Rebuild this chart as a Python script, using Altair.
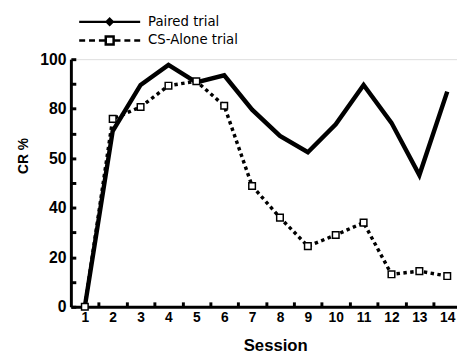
import altair as alt
import pandas as pd

sessions = list(range(1, 15))
paired = [0, 71, 89.6, 97.7, 90.6, 93.5, 79.6, 69, 62.4, 73.7, 89.6, 74.3, 53.2, 86.9]
cs_alone = [0, 75.9, 80.7, 89.3, 91.1, 81.2, 48.8, 36, 24.5, 29, 34, 13.1, 14.4, 12.4]
series_names = ["Paired trial", "CS-Alone trial"]
y_tick_values = [0, 20, 40, 60, 80, 100]
y_tick_labels = ["0", "20", "40", "50", "80", "100"]
y_minor_ticks = [0, 10, 20, 30, 40, 50, 60, 70, 80, 90, 100]
x_minor_ticks = [1.5, 2.5, 3.5, 4.5, 5.5, 6.5, 7.5, 8.5, 9.5, 10.5, 11.5, 12.5, 13.5]

rows = []
for s, p, c in zip(sessions, paired, cs_alone):
    rows.append({"Session": s, "CR": p, "Series": series_names[0]})
    rows.append({"Session": s, "CR": c, "Series": series_names[1]})
df = pd.DataFrame(rows)

FONT = "Liberation Sans"
LFONT = "DejaVu Sans"
xscale = alt.Scale(domain=[0.5, 14.35], nice=False, zero=False)
yscale = alt.Scale(domain=[0, 100], nice=False)

label_expr = " : ".join(
    [f"datum.value == {v} ? '{l}'" for v, l in zip(y_tick_values, y_tick_labels)]
) + " : ''"

x_axis = alt.Axis(
    orient="bottom", values=sessions, ticks=False, grid=False,
    domainColor="black", domainWidth=3, labelFont=FONT, labelFontSize=14,
    labelFontWeight="bold", labelColor="black", labelPadding=4,
    title="Session", titleFont=FONT, titleFontSize=17, titleFontWeight="bold",
    titleColor="black", titleX=208, titleY=45, titleBaseline="alphabetic",
)
y_axis = alt.Axis(
    orient="left", values=y_tick_values, labelExpr=label_expr, ticks=False,
    grid=False, domainColor="black", domainWidth=3, labelFont=FONT,
    labelFontSize=16, labelFontWeight="bold", labelColor="black", labelPadding=5,
    title="CR %", titleFont=FONT, titleFontSize=14, titleFontWeight="bold",
    titleColor="black", titleX=-41, titleY=98, titleAlign="center",
)

line_p = alt.Chart(df).transform_filter(alt.datum.Series == series_names[0]).mark_line(
    color="black", strokeWidth=4.5
).encode(
    x=alt.X("Session:Q", scale=xscale, axis=x_axis),
    y=alt.Y("CR:Q", scale=yscale, axis=y_axis),
)
line_c = alt.Chart(df).transform_filter(alt.datum.Series == series_names[1]).mark_line(
    color="black", strokeWidth=3.5, strokeDash=[3.5, 3.5]
).encode(
    x=alt.X("Session:Q", scale=xscale, axis=None),
    y=alt.Y("CR:Q", scale=yscale, axis=None),
)

x_tick_axis = alt.Axis(orient="bottom", values=x_minor_ticks, labels=False, domain=False,
                       ticks=True, tickSize=5, tickWidth=3, tickColor="black", offset=-5,
                       grid=False, title=None)
y_tick_axis = alt.Axis(orient="left", values=y_minor_ticks, labels=False, domain=False,
                       ticks=True, tickSize=5, tickWidth=3, tickColor="black", offset=-5,
                       grid=False, title=None)

pts = alt.Chart(df).transform_filter(alt.datum.Series == series_names[1]).mark_point(
    shape="square", filled=True, fill="white", stroke="black", strokeWidth=1.5, size=45, opacity=1
).encode(
    x=alt.X("Session:Q", scale=xscale, axis=x_tick_axis),
    y=alt.Y("CR:Q", scale=yscale, axis=y_tick_axis),
)

pathP = "M-3.65,0H3.65M0,-0.36L0.36,0L0,0.36L-0.36,0Z"
pathC = ("M-3.65,0H-2.94M-2.47,0H-1.76M-1.29,0H-0.59"
         "M-0.47,-0.47H0.47V0.47H-0.47Z"
         "M0.59,0H1.29M1.76,0H2.47M2.94,0H3.65")

leg = alt.Legend(
    orient="none", legendX=29.5, legendY=-48, title=None,
    symbolSize=289, symbolStrokeWidth=2.5, symbolStrokeColor="black",
    symbolOpacity=1, rowPadding=-1, labelOffset=29,
    labelFont=LFONT, labelFontSize=13.5, labelColor="black", padding=0,
)

legend_layer = alt.Chart(df).mark_point(opacity=0, filled=False, strokeWidth=2.5).encode(
    x=alt.X("Session:Q", scale=xscale, axis=None),
    y=alt.Y("CR:Q", scale=yscale, axis=None),
    shape=alt.Shape("Series:N", scale=alt.Scale(domain=series_names, range=[pathP, pathC]), legend=leg),
    fill=alt.Fill("Series:N", scale=alt.Scale(domain=series_names, range=["black", "white"]), legend=leg),
    stroke=alt.Stroke("Series:N", scale=alt.Scale(domain=series_names, range=["black", "black"]), legend=leg),
)

chart = alt.layer(line_p, line_c, pts, legend_layer).resolve_axis(
    x="independent", y="independent"
).properties(
    width=393, height=252,
    autosize=alt.AutoSizeParams(type="none"),
    padding={"left": 64, "top": 49, "right": 0, "bottom": 47},
).configure_view(stroke=None).configure(background="white")

chart.save("out.html", embed_options={"renderer": "svg", "actions": False})
